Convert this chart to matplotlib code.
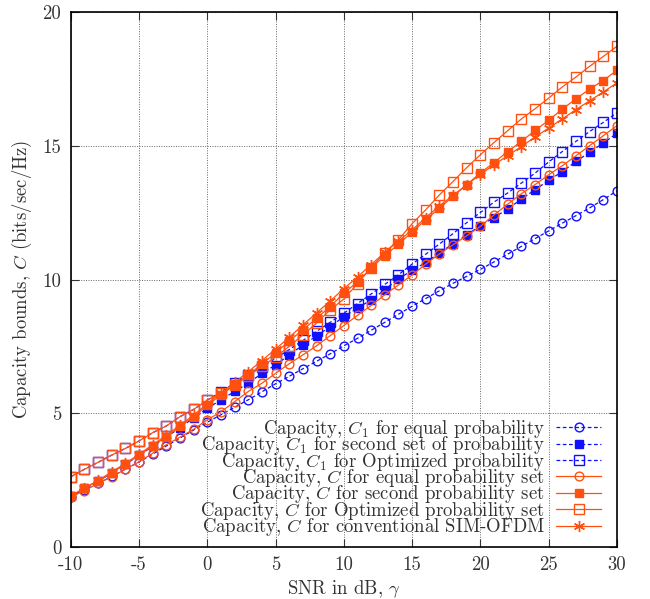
import numpy as np
import matplotlib
matplotlib.use("Agg")
from matplotlib import pyplot as plt

plt.rcParams['font.family'] = ['cmr10', 'DejaVu Serif']
plt.rcParams['mathtext.fontset'] = 'cm'
plt.rcParams['axes.unicode_minus'] = False

snr_db = list(range(-10, 31))

# C1, equal probability
c1_equal = [1.87, 2.12, 2.37, 2.63, 2.90, 3.17, 3.47, 3.77, 4.07, 4.37,
            4.66, 4.94, 5.22, 5.50, 5.80, 6.10, 6.38, 6.66, 6.94, 7.22,
            7.52, 7.80, 8.10, 8.40, 8.70, 9.00, 9.29, 9.58, 9.86, 10.12,
            10.38, 10.66, 10.95, 11.24, 11.53, 11.82, 12.11, 12.39, 12.68, 12.99,
            13.32]
# C1, second set of probability
c1_second = [1.88, 2.18, 2.45, 2.76, 3.08, 3.42, 3.76, 4.10, 4.46, 4.82,
             5.18, 5.50, 5.81, 6.12, 6.49, 6.80, 7.18, 7.55, 7.89, 8.24,
             8.61, 8.93, 9.24, 9.62, 10.03, 10.34, 10.64, 10.99, 11.34, 11.67,
             12.02, 12.32, 12.64, 13.01, 13.36, 13.71, 14.04, 14.42, 14.76, 15.11,
             15.47]
# C1, optimized probability
c1_opt = [2.62, 2.90, 3.16, 3.43, 3.68, 3.96, 4.27, 4.52, 4.87, 5.14,
          5.49, 5.80, 6.12, 6.43, 6.74, 7.05, 7.38, 7.72, 8.06, 8.40,
          8.74, 9.10, 9.46, 9.82, 10.18, 10.58, 10.95, 11.33, 11.72, 12.13,
          12.51, 12.90, 13.24, 13.61, 13.98, 14.40, 14.79, 15.17, 15.54, 15.88,
          16.24]
# C, equal probability set
c_equal = [1.87, 2.10, 2.37, 2.62, 2.90, 3.18, 3.50, 3.82, 4.10, 4.40,
           4.75, 5.05, 5.43, 5.81, 6.12, 6.49, 6.85, 7.18, 7.52, 7.90,
           8.28, 8.66, 9.03, 9.43, 9.80, 10.17, 10.58, 10.96, 11.30, 11.64,
           11.99, 12.42, 12.82, 13.21, 13.55, 13.92, 14.26, 14.63, 15.01, 15.38,
           15.76]
# C, second probability set
c_second = [1.90, 2.19, 2.46, 2.77, 3.09, 3.43, 3.78, 4.12, 4.50, 4.87,
            5.30, 5.68, 6.06, 6.43, 6.84, 7.25, 7.70, 8.12, 8.55, 8.99,
            9.49, 9.91, 10.43, 10.90, 11.32, 11.78, 12.24, 12.67, 13.12, 13.55,
            13.99, 14.38, 14.79, 15.17, 15.58, 15.96, 16.38, 16.76, 17.13, 17.45,
            17.83]
# C, optimized probability set
c_opt = [2.62, 2.90, 3.16, 3.43, 3.68, 3.96, 4.27, 4.52, 4.87, 5.14,
         5.49, 5.75, 6.05, 6.40, 6.75, 7.10, 7.50, 7.93, 8.37, 8.87,
         9.27, 9.85, 10.45, 11.01, 11.49, 12.09, 12.61, 13.17, 13.67, 14.19,
         14.67, 15.13, 15.57, 16.01, 16.39, 16.79, 17.21, 17.58, 17.98, 18.35,
         18.73]
# C, conventional SIM-OFDM
c_conv = [1.90, 2.20, 2.48, 2.80, 3.12, 3.46, 3.82, 4.17, 4.55, 4.93,
          5.36, 5.76, 6.15, 6.55, 6.97, 7.40, 7.84, 8.30, 8.75, 9.20,
          9.66, 10.10, 10.56, 11.02, 11.44, 11.86, 12.32, 12.76, 13.15, 13.55,
          13.93, 14.30, 14.63, 14.98, 15.33, 15.67, 16.01, 16.36, 16.69, 17.02,
          17.36]

labels = [
    r'Capacity, $C_1$ for equal probability',
    r'Capacity, $C_1$ for second set of probability',
    r'Capacity, $C_1$ for Optimized probability',
    r'Capacity, $C$ for equal probability set',
    r'Capacity, $C$ for second probability set',
    r'Capacity, $C$ for Optimized probability set',
    r'Capacity, $C$ for conventional SIM-OFDM',
]

BLUE = '#1010ff'
ORANGE = '#ff5010'
FS = 13.5
TXT = '#333333'

fig = plt.figure(figsize=(6.5, 5.99), dpi=100)
ax = fig.add_axes([0.109, 0.0873, 0.84, 0.892])

dash = (0, (3, 2))
ax.plot(snr_db, c1_equal, color=BLUE, ls=dash, lw=0.9, marker='o', ms=6.3,
        mfc='none', mew=1.0, label=labels[0])
ax.plot(snr_db, c1_second, color=BLUE, ls=dash, lw=0.9, marker='s', ms=6.3,
        mfc=BLUE, mew=1.0, label=labels[1])
ax.plot(snr_db, c1_opt, color=BLUE, ls=dash, lw=0.9, marker='s', ms=6.8,
        mfc='none', mew=1.0, label=labels[2])
ax.plot(snr_db, c_equal, color=ORANGE, ls='-', lw=0.9, marker='o', ms=6.3,
        mfc='none', mew=1.0, label=labels[3])
ax.plot(snr_db, c_second, color=ORANGE, ls='-', lw=0.9, marker='s', ms=6.3,
        mfc=ORANGE, mew=1.0, label=labels[4])
ax.plot(snr_db, c_opt, color=ORANGE, ls='-', lw=0.9, marker='s', ms=6.8,
        mfc='none', mew=1.0, label=labels[5])
ax.plot(snr_db, c_conv, color=ORANGE, ls='-', lw=0.9, marker=(6, 2, 0), ms=8,
        mew=1.0, label=labels[6])

ax.set_xlim(-10, 30)
ax.set_ylim(0, 20)
xt = [-10, -5, 0, 5, 10, 15, 20, 25, 30]
yt = [0, 5, 10, 15, 20]
ax.set_xticks(xt)
ax.set_xticklabels([str(v) for v in xt], fontsize=FS)
ax.set_yticks(yt)
ax.set_yticklabels([str(v) for v in yt], fontsize=FS)
ax.tick_params(direction='in', top=True, right=True, length=6, width=0.8,
               colors=TXT, pad=7)
ax.grid(True, color='#666666', ls=(0, (1, 1.5)), lw=0.7)
for s in ax.spines.values():
    s.set_linewidth(1.2)

ax.set_xlabel(r'SNR in dB, $\gamma$', fontsize=FS, color=TXT, labelpad=3)
ax.set_ylabel(r'Capacity bounds, $C$ (bits/sec/Hz)', fontsize=FS,
              color=TXT, labelpad=6)

leg = ax.legend(loc='lower right', bbox_to_anchor=(0.985, 0.002), frameon=False,
                markerfirst=False, fontsize=FS, handlelength=2.4,
                labelspacing=-0.30, handletextpad=0.6, borderaxespad=0)
for t in leg.get_texts():
    t.set_color(TXT)

fig.savefig('out.png', dpi=100)
